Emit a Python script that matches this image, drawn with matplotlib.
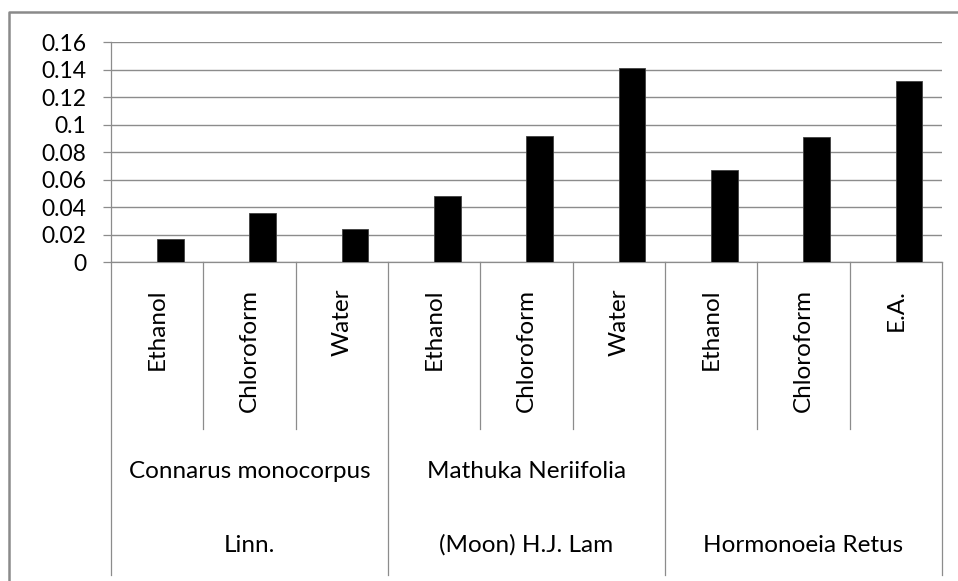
import matplotlib
matplotlib.use("Agg")
import matplotlib.pyplot as plt
from matplotlib.lines import Line2D
from matplotlib.transforms import blended_transform_factory

# Absorbance by plant and extraction solvent
solvents = ["Ethanol", "Chloroform", "Water",
            "Ethanol", "Chloroform", "Water",
            "Ethanol", "Chloroform", "E.A."]
values = [0.017, 0.036, 0.024,
          0.048, 0.092, 0.141,
          0.067, 0.091, 0.132]
plant_line1 = ["Connarus monocorpus", "Mathuka Neriifolia", ""]
plant_line2 = ["Linn.", "(Moon) H.J. Lam", "Hormonoeia Retus"]
group_size = 3
y_ticks = [0, 0.02, 0.04, 0.06, 0.08, 0.10, 0.12, 0.14, 0.16]
y_tick_labels = ["0", "0.02", "0.04", "0.06", "0.08", "0.1", "0.12", "0.14", "0.16"]

plt.rcParams["font.family"] = ["Lato", "DejaVu Sans"]

W, H = 958, 581
fig = plt.figure(figsize=(W / 100, H / 100), dpi=100)

# axes placed in pixel terms
left_px, right_px, top_px, bottom_px = 111, 942, 42.3, 262.3
ax = fig.add_axes([left_px / W, 1 - bottom_px / H,
                   (right_px - left_px) / W, (bottom_px - top_px) / H])

grid_color = "#8c8c8c"
n = len(values)

# clustered column layout: two series slots, data in the second one
gap = 1.5
bar_w = 1 / (2 + gap)
xs = [i + 0.5 + bar_w / 2 for i in range(n)]
ax.bar(xs, values, width=bar_w, color="black", edgecolor="#404040",
       linewidth=0.6, zorder=3)

ax.set_xlim(0, n)
ax.set_ylim(0, 0.16)
ax.set_yticks(y_ticks)
ax.set_yticklabels(y_tick_labels, fontsize=16.5)
ax.set_xticks([])
ax.yaxis.grid(True, color=grid_color, linewidth=1.0, zorder=0)
ax.tick_params(axis="y", length=6, width=0.9, color=grid_color, pad=12)
for side in ["top", "right"]:
    ax.spines[side].set_visible(False)
ax.spines["left"].set_color(grid_color)
ax.spines["bottom"].set_color(grid_color)
ax.spines["left"].set_linewidth(0.9)
ax.spines["bottom"].set_linewidth(0.9)

trans = blended_transform_factory(ax.transData, ax.transAxes)
ax_h = bottom_px - top_px


def frac(py):
    return (bottom_px - py) / ax_h


inner_end = frac(429)
outer_end = frac(575)

# category separators
for k in range(n + 1):
    end = outer_end if k % group_size == 0 else inner_end
    ax.add_line(Line2D([k, k], [0, end], transform=trans, color=grid_color,
                       linewidth=0.9, clip_on=False))

# solvent labels
for i, s in enumerate(solvents):
    ax.text(i + 0.5, frac(289), s, transform=trans, rotation=90,
            rotation_mode="anchor", ha="right", va="center",
            fontsize=17.5, color="black")

# plant labels, two lines per group
n_groups = n // group_size
for g in range(n_groups):
    cx = g * group_size + group_size / 2
    ax.text(cx, frac(471.7), plant_line1[g], transform=trans,
            ha="center", va="center", fontsize=17.5)
    ax.text(cx, frac(545), plant_line2[g], transform=trans,
            ha="center", va="center", fontsize=17.5)

# outer chart border
fx = 9 / W
fy = 1 - 12 / H
fig.add_artist(Line2D([fx, fx, 1.01], [-0.01, fy, fy], transform=fig.transFigure,
                      color="#8a8a8a", linewidth=1.8))

fig.savefig("out.png", dpi=100)
